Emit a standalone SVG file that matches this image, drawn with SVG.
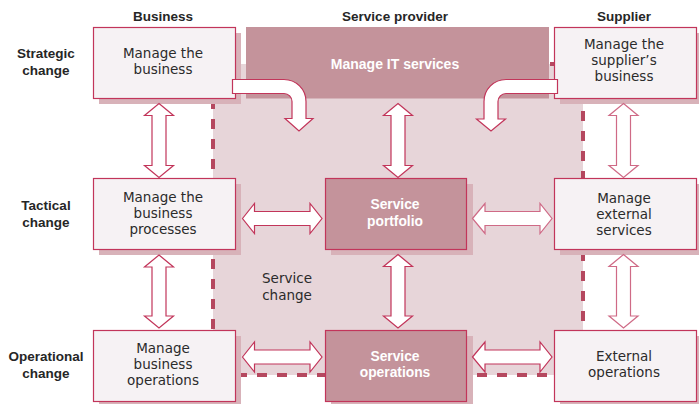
<svg xmlns="http://www.w3.org/2000/svg" width="699" height="404" viewBox="0 0 699 404">
<style>
.lbl{font-family:"Liberation Sans",Arial,sans-serif;font-weight:bold;font-size:13.5px;fill:#262626;text-anchor:middle}
.txt{font-family:"DejaVu Sans","Open Sans",sans-serif;font-size:13.5px;fill:#2b2b2b;text-anchor:middle}
.wtxt{font-family:"Liberation Sans",Arial,sans-serif;font-weight:bold;font-size:13.8px;fill:#ffffff;text-anchor:middle}
.light{fill:#f6f2f4;stroke:#c2355a;stroke-width:1.2}
.dark{fill:#c4939b;stroke:#c2355a;stroke-width:1.2}
.shadow{fill:#d8b2b9}
.arrow{fill:#ffffff;stroke:#c2355a;stroke-width:1.2;stroke-linejoin:miter}
.arrow2{fill:#ffffff;stroke:#cf6a86;stroke-width:1.2}
</style>
<rect width="699" height="404" fill="#ffffff"/>
<g id="service-change-region">
<rect x="213" y="64" width="370" height="311" fill="#e7d5d9"/>
<rect x="213" y="64" width="370" height="311" fill="none" stroke="#b5485f" stroke-width="4" stroke-dasharray="10 10" stroke-dashoffset="3"/>
<text class="txt" x="287" y="283">Service</text>
<text class="txt" x="287" y="300">change</text>
</g>
<g id="headers">
<text class="lbl" x="163" y="21">Business</text>
<text class="lbl" x="395" y="21">Service provider</text>
<text class="lbl" x="624" y="21">Supplier</text>
<text class="lbl" x="46" y="58">Strategic</text>
<text class="lbl" x="46" y="75">change</text>
<text class="lbl" x="46" y="210">Tactical</text>
<text class="lbl" x="46" y="227">change</text>
<text class="lbl" x="46" y="361">Operational</text>
<text class="lbl" x="46" y="378">change</text>
</g>
<g id="manage-it-services">
<rect x="246" y="27" width="303" height="71.5" fill="#c4939b"/>
<text class="wtxt" x="395" y="69" style="font-size:14px">Manage IT services</text>
</g>
<g id="manage-business">
<rect class="shadow" x="99" y="33" width="142" height="71"/>
<rect class="light" x="93.5" y="27.5" width="142" height="71"/>
<text class="txt" x="163" y="58">Manage the</text>
<text class="txt" x="163" y="74">business</text>
</g>
<g id="manage-suppliers-business">
<rect class="shadow" x="560" y="33" width="142" height="71"/>
<rect class="light" x="554.5" y="27.5" width="142" height="71"/>
<text class="txt" x="624" y="49">Manage the</text>
<text class="txt" x="624" y="65">supplier’s</text>
<text class="txt" x="624" y="81">business</text>
</g>
<g id="manage-business-processes">
<rect class="shadow" x="99" y="184" width="142" height="71"/>
<rect class="light" x="93.5" y="178.5" width="142" height="71"/>
<text class="txt" x="163" y="202">Manage the</text>
<text class="txt" x="163" y="218">business</text>
<text class="txt" x="163" y="234">processes</text>
</g>
<g id="service-portfolio">
<rect class="shadow" x="331" y="184" width="142" height="71"/>
<rect class="dark" x="325.5" y="178.5" width="141" height="71"/>
<text class="wtxt" x="395" y="209">Service</text>
<text class="wtxt" x="395" y="226">portfolio</text>
</g>
<g id="manage-external-services">
<rect class="shadow" x="560" y="184" width="142" height="71"/>
<rect class="light" x="554.5" y="178.5" width="142" height="71"/>
<text class="txt" x="624" y="203">Manage</text>
<text class="txt" x="624" y="219">external</text>
<text class="txt" x="624" y="235">services</text>
</g>
<g id="manage-business-operations">
<rect class="shadow" x="99" y="336" width="142" height="71"/>
<rect class="light" x="93.5" y="330.5" width="142" height="71"/>
<text class="txt" x="163" y="353">Manage</text>
<text class="txt" x="163" y="369">business</text>
<text class="txt" x="163" y="385">operations</text>
</g>
<g id="service-operations">
<rect class="shadow" x="331" y="336" width="142" height="71"/>
<rect class="dark" x="325.5" y="330.5" width="141" height="71"/>
<text class="wtxt" x="395" y="361">Service</text>
<text class="wtxt" x="395" y="377">operations</text>
</g>
<g id="external-operations">
<rect class="shadow" x="560" y="336" width="142" height="71"/>
<rect class="light" x="554.5" y="330.5" width="142" height="71"/>
<text class="txt" x="624" y="361">External</text>
<text class="txt" x="624" y="377">operations</text>
</g>
<g id="connectors">
<path class="arrow" d="M159,103.5 L173.5,115.5 H166 V165.5 H173.5 L159,177.5 L144.5,165.5 H152 V115.5 H144.5 Z"/>
<path class="arrow" d="M159,255 L173.5,267 H166 V316 H173.5 L159,328 L144.5,316 H152 V267 H144.5 Z"/>
<path class="arrow" d="M398,103.5 L412.5,115.5 H405 V165.5 H412.5 L398,177.5 L383.5,165.5 H391 V115.5 H383.5 Z"/>
<path class="arrow" d="M398,254.5 L412.5,266.5 H405 V316 H412.5 L398,328 L383.5,316 H391 V266.5 H383.5 Z"/>
<path class="arrow2" d="M623.5,103.5 L638,115.5 H630.5 V165.5 H638 L623.5,177.5 L609,165.5 H616.5 V115.5 H609 Z"/>
<path class="arrow2" d="M623.5,254.5 L638,266.5 H630.5 V316 H638 L623.5,328 L609,316 H616.5 V266.5 H609 Z"/>
<path class="arrow" d="M242.5,218.5 L254.5,203.5 V211.5 H310 V203.5 L322,218.5 L310,233.5 V225.5 H254.5 V233.5 Z"/>
<path class="arrow2" d="M472.5,218.5 L485,203.5 V211.5 H540 V203.5 L552,218.5 L540,233.5 V225.5 H485 V233.5 Z"/>
<path class="arrow" d="M242.5,357 L254.5,342 V350 H310 V342 L322,357 L310,372 V364 H254.5 V372 Z"/>
<path class="arrow" d="M472.5,357 L485,342 V350 H540 V342 L552,357 L540,372 V364 H485 V372 Z"/>
<path class="arrow" d="M232.5,79.5 H284 A22,22 0 0 1 306,101.5 V118.5 H313 L299,131 L285,118.5 H292 V101.5 A8,8 0 0 0 284,93.5 H232.5 Z"/>
<path class="arrow" d="M557.5,79.5 H506 A22,22 0 0 0 484,101.5 V119 H476.5 L491,131 L505.5,119 H498 V101.5 A8,8 0 0 1 506,93.5 H557.5 Z"/>
</g>
</svg>
